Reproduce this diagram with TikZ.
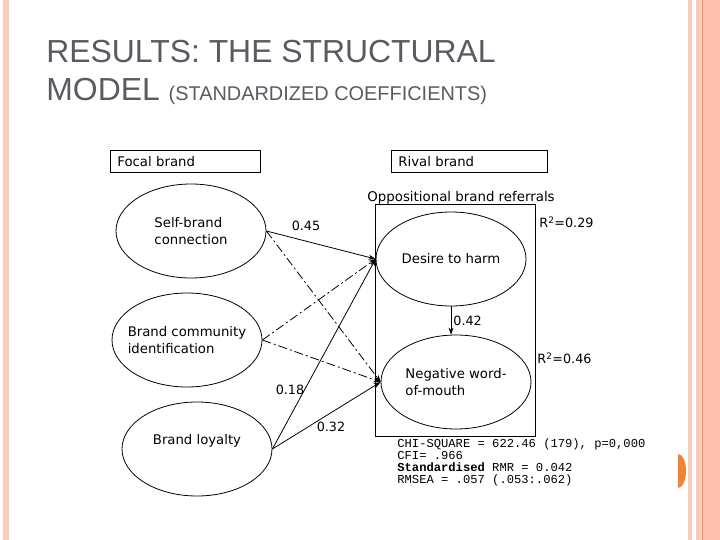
\documentclass[tikz,border=0pt]{standalone}
\usepackage{fontspec}
\setmainfont{DejaVu Sans}
\newfontfamily\titlefont{Liberation Sans}
\newfontfamily\statfont{Liberation Mono}
\usetikzlibrary{shapes.geometric,arrows.meta}
\definecolor{titlegray}{RGB}{88,92,98}
\definecolor{bandlight}{RGB}{249,204,188}
\definecolor{banddark}{RGB}{252,192,172}
\definecolor{bandline}{RGB}{236,150,110}
\definecolor{taborange}{RGB}{240,132,52}
\tikzset{
  latent/.style={draw=black,ellipse,minimum width=150bp,minimum height=94bp,
    inner sep=-12bp,align=left,font=\fontsize{13.3}{16.5}\selectfont},
  header/.style={draw=black,anchor=north west,inner xsep=7bp,minimum height=22bp,
    align=left,font=\fontsize{13.3}{15}\selectfont},
  coef/.style={inner sep=0pt,font=\fontsize{12.8}{15}\selectfont},
  nonsig/.style={dash pattern=on 9bp off 3bp on 2bp off 3bp},
  statblock/.style={inner sep=0pt,align=left,font=\statfont\fontsize{12.2}{12.3}\selectfont},
  titletext/.style={inner sep=0pt,text=titlegray,font=\titlefont\fontsize{32}{38}\selectfont}
}
\begin{document}
\begin{tikzpicture}[x=1bp,y=-1bp,line width=0.8bp,>={Stealth[length=7bp,width=5bp]}]
  \useasboundingbox (0,0) rectangle (720,540);
  % slide border
  \fill[bandlight] (3,0) rectangle (9,540);
  \fill[bandlight] (688,0) rectangle (692,540);
  \fill[bandlight] (696,0) rectangle (702,540);
  \fill[bandline]  (702,0) rectangle (703,540);
  \fill[banddark]  (703,0) rectangle (720,540);
  \fill[taborange] (678,454) arc[start angle=-90,end angle=90,x radius=8,y radius=17] -- cycle;
  % title
  \node[titletext,anchor=base west] (titleA) at (46, 63) {RESULTS: THE STRUCTURAL};
  \node[titletext,anchor=base west] (titleB) at (46,101)
    {MODEL {\fontsize{20}{24}\selectfont(STANDARDIZED COEFFICIENTS)}};
  % headers
  \node[header,text width=136bp] (focal) at (110,150) {Focal brand};
  \node[header,text width=142bp] (rival) at (391,150) {Rival brand};
  \node[coef,anchor=west,font=\fontsize{13.4}{15}\selectfont] (obr) at (367,198) {Oppositional brand referrals};
  \draw[black] (375,204) rectangle (535,436);
  % constructs
  \node[latent] (sb)   at (191,231) {Self-brand\\connection};
  \node[latent] (bc)   at (187,340) {Brand community\\identification};
  \node[latent] (bl)   at (197,449) {\strut Brand loyalty\\\strut};
  \node[latent] (dth)  at (451,259) {Desire to harm};
  \node[latent] (nwom) at (456,382) {Negative word-\\of-mouth};
  % paths
  \draw[black,->]        (sb.east) -- (dth.west);
  \draw[black,->,nonsig] (sb.east) -- (nwom.west);
  \draw[black,->,nonsig] (bc.east) -- (dth.west);
  \draw[black,->,nonsig] (bc.east) -- (nwom.west);
  \draw[black,->]        (bl.east) -- (dth.west);
  \draw[black,->]        (bl.east) -- (nwom.west);
  \draw[black,->]        (dth.south) -- (dth.south |- nwom.north);
  % coefficients
  \node[coef] (c45) at (306,226) {0.45};
  \node[coef] (c18) at (290,390) {0.18};
  \node[coef] (c32) at (331,427) {0.32};
  \node[coef,anchor=west] (c42) at (453,321) {0.42};
  \node[coef,anchor=west] (r29) at (539,222) {R\textsuperscript{2}=0.29};
  \node[coef,anchor=west] (r46) at (537,358) {R\textsuperscript{2}=0.46};
  % fit
  \node[statblock,anchor=north west] (fitstats) at (397,438)
    {CHI-SQUARE = 622.46 (179), p=0,000\\CFI= .966\\\textbf{Standardised} RMR = 0.042\\RMSEA = .057 (.053:.062)};
\end{tikzpicture}
\end{document}
